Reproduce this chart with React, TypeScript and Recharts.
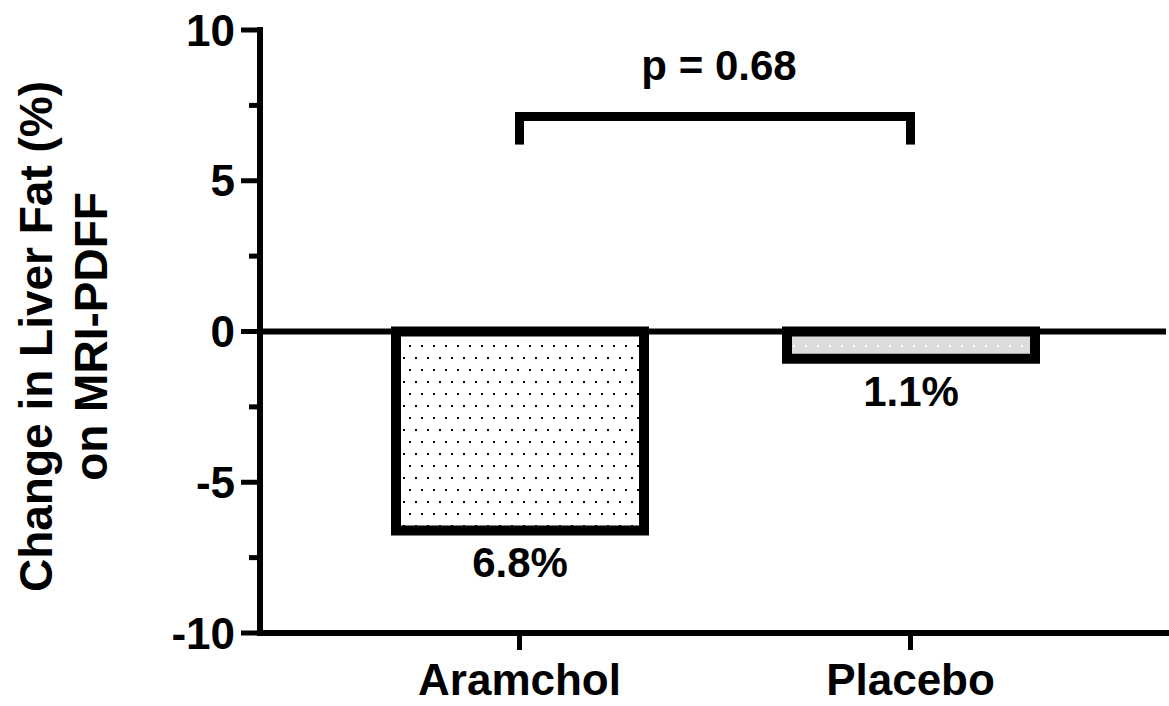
import { BarChart, Bar, XAxis, YAxis, ReferenceLine, LabelList, Label, Cell } from 'recharts'

// groups and measured change in liver fat
const groups = ['Aramchol', 'Placebo']
const changes = [-6.6, -0.9]
const valueLabels = ['6.8%', '1.1%']
const barFills = ['url(#dotsOnWhite)', 'url(#dotsOnGrey)']

// y axis: every 2.5 gets a tick, only multiples of 5 get a number
const yTicks = [-10, -7.5, -5, -2.5, 0, 2.5, 5, 7.5, 10]
const majorTicks = [-10, -5, 0, 5, 10]

// significance bracket
const pValueText = 'p = 0.68'
const bracketLevel = 7.13
const bracketLegTop = 7.28
const bracketLegBottom = 6.2

const yLabelLines = ['Change in Liver Fat (%)', 'on MRI-PDFF']

const data = groups.map((g, i) => ({ group: g, change: changes[i], label: valueLabels[i] }))

const FONT = '"Liberation Sans", Arial, sans-serif'
const Y_TICK_SIZE = 19
const Y_TICK_MARGIN = 6

function YTick({ x, y, payload }: any) {
  const axisX = x + Y_TICK_SIZE + Y_TICK_MARGIN
  const major = majorTicks.includes(payload.value)
  return (
    <g>
      <line x1={axisX - (major ? 19 : 11)} x2={axisX} y1={y} y2={y} stroke="#000" strokeWidth={5} />
      {major && (
        <text x={x} y={y} dy="0.355em" textAnchor="end" fontSize={44} fontWeight="bold" fontFamily={FONT} fill="#000">
          {payload.value}
        </text>
      )}
    </g>
  )
}

function BarValue({ x, y, width, height, value }: any) {
  const bottom = Math.max(y, y + height)
  return (
    <text x={x + width / 2} y={bottom + 47} textAnchor="middle" fontSize={42} fontWeight="bold" fontFamily={FONT} fill="#000">
      {value}
    </text>
  )
}

function YAxisTitle({ viewBox }: any) {
  const cy = viewBox.y + viewBox.height / 2 + 5
  const xs = [52, 107]
  return (
    <g>
      {yLabelLines.map((line, i) => (
        <text key={i} x={xs[i]} y={cy} transform={`rotate(-90, ${xs[i]}, ${cy})`} textAnchor="middle" fontSize={46} fontWeight="bold" fontFamily={FONT} fill="#000">
          {line}
        </text>
      ))}
    </g>
  )
}

export default function App() {
  return (
    <div style={{ position: 'absolute', left: 0, top: 0, background: '#fff' }}>
      <BarChart
        width={1169}
        height={706}
        data={data}
        margin={{ top: 30, right: 3, bottom: 0, left: 0 }}
        style={{ fontFamily: FONT }}
      >
        <defs>
          <pattern id="dotsOnWhite" width={12} height={24} patternUnits="userSpaceOnUse">
            <rect width={12} height={24} fill="#ffffff" />
            <rect x={1} y={9} width={2} height={2} fill="#000000" />
            <rect x={7} y={21} width={2} height={2} fill="#000000" />
          </pattern>
          <pattern id="dotsOnGrey" width={12} height={24} patternUnits="userSpaceOnUse">
            <rect width={12} height={24} fill="#dcdcdc" />
            <rect x={1} y={9} width={2} height={2} fill="#ffffff" />
            <rect x={7} y={21} width={2} height={2} fill="#ffffff" />
          </pattern>
        </defs>
        <XAxis
          dataKey="group"
          height={73}
          padding={{ left: 64, right: 60 }}
          axisLine={{ stroke: '#000', strokeWidth: 6, strokeLinecap: 'square' }}
          tickLine={{ stroke: '#000', strokeWidth: 5 }}
          tickSize={17}
          tickMargin={14}
          tick={{ fill: '#000', fontSize: 44, fontWeight: 'bold', fontFamily: FONT }}
        />
        <YAxis
          width={260}
          domain={[-10, 10]}
          ticks={yTicks}
          interval={0}
          axisLine={{ stroke: '#000', strokeWidth: 6, strokeLinecap: 'square' }}
          tickLine={false}
          tickSize={Y_TICK_SIZE}
          tickMargin={Y_TICK_MARGIN}
          tick={<YTick />}
        >
          <Label content={<YAxisTitle />} />
        </YAxis>
        <Bar dataKey="change" barSize={248} stroke="#000" strokeWidth={10} isAnimationActive={false}>
          {data.map((d, i) => (
            <Cell key={d.group} fill={barFills[i]} />
          ))}
          <LabelList dataKey="label" content={<BarValue />} />
        </Bar>
        <ReferenceLine y={0} stroke="#000" strokeWidth={6} />
        <ReferenceLine
          segment={[{ x: groups[0], y: bracketLevel }, { x: groups[1], y: bracketLevel }]}
          stroke="#000"
          strokeWidth={9}
          ifOverflow="visible"
        >
          <Label value={pValueText} position="top" offset={37} dx={4} fontSize={42} fontWeight="bold" fontFamily={FONT} fill="#000" />
        </ReferenceLine>
        <ReferenceLine
          segment={[{ x: groups[0], y: bracketLegTop }, { x: groups[0], y: bracketLegBottom }]}
          stroke="#000"
          strokeWidth={9}
          ifOverflow="visible"
        />
        <ReferenceLine
          segment={[{ x: groups[1], y: bracketLegTop }, { x: groups[1], y: bracketLegBottom }]}
          stroke="#000"
          strokeWidth={9}
          ifOverflow="visible"
        />
      </BarChart>
    </div>
  )
}
